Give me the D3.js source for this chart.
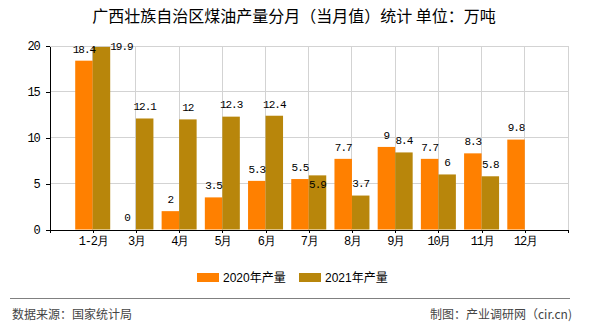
<!DOCTYPE html>
<html>
<head>
<meta charset="utf-8">
<script src="https://cdn.jsdelivr.net/npm/d3@7"></script>
<style>
  html, body { margin: 0; padding: 0; background: #fff; }
  svg { display: block; }
</style>
</head>
<body>
<script>
const categories = ["1-2月","3月","4月","5月","6月","7月","8月","9月","10月","11月","12月"];
const values2020 = [18.4, 0, 2, 3.5, 5.3, 5.5, 7.7, 9, 7.7, 8.3, 9.8];
const values2021 = [19.9, 12.1, 12, 12.3, 12.4, 5.9, 3.7, 8.4, 6, 5.8, null];
const seriesNames = ["2020年产量", "2021年产量"];
const seriesColors = ["#FF8000", "#B8860B"];
const yTicks = [0, 5, 10, 15, 20];
const titleText = "广西壮族自治区煤油产量分月（当月值）统计 单位：万吨";
const sourceText = "数据来源：国家统计局";
const creditText = "制图：产业调研网（cir.cn)";

(function () {
const W = 590, H = 330;
const pL = 49.5, pR = 568, pT = 46, pB = 229.5;
const svg = d3.select("body").append("svg").attr("width", W).attr("height", H);

const x = d3.scaleLinear().domain([0, categories.length + 1]).range([pL, pR]);
const y = d3.scaleLinear().domain([0, 20]).range([pB, pT]);
const barW = 17.5;

// title
svg.append("text").attr("x", 294).attr("y", 22).attr("text-anchor", "middle")
  .style("font-family", "'Noto Sans CJK SC', sans-serif").style("font-size", "16px").attr("fill", "#000")
  .text(titleText);

// grid
const grid = svg.append("g").attr("stroke", "#d3d3d3").attr("stroke-width", 1).attr("shape-rendering", "crispEdges");
yTicks.filter(t => t > 0).forEach(t => {
  grid.append("line").attr("x1", pL).attr("x2", pR).attr("y1", y(t)).attr("y2", y(t));
});
d3.range(1, categories.length + 2).forEach(k => {
  grid.append("line").attr("x1", x(k)).attr("x2", x(k)).attr("y1", pT).attr("y2", pB);
});

// bars
const series = [values2020, values2021];
series.forEach((vals, si) => {
  svg.append("g").selectAll("rect").data(vals.map((v, i) => ({v, i})).filter(d => d.v != null))
    .join("rect")
    .attr("x", d => si === 0 ? x(d.i + 1) - barW : x(d.i + 1))
    .attr("width", barW)
    .attr("y", d => y(d.v))
    .attr("height", d => y(0) - y(d.v))
    .attr("fill", seriesColors[si]);
});

// axes
const axisFont = "'Liberation Mono', monospace";
const yAxis = svg.append("g").attr("transform", `translate(${pL},0)`)
  .call(d3.axisLeft(y).tickValues(yTicks).tickSize(4).tickSizeOuter(0).tickPadding(6).tickFormat(d3.format("d")));
const xAxis = svg.append("g").attr("transform", `translate(0,${pB})`)
  .call(d3.axisBottom(x).tickValues(d3.range(0, categories.length + 2)).tickSize(3).tickSizeOuter(0).tickPadding(4)
    .tickFormat(k => categories[k - 1] || ""));
[yAxis, xAxis].forEach(a => {
  a.selectAll("path, line").attr("stroke", "#000").attr("shape-rendering", "crispEdges");
  a.selectAll("text").style("font-family", axisFont).style("font-size", "12px")
    .style("letter-spacing", "-1.2px").attr("fill", "#000");
});

// value labels with simple collision avoidance
const charW = 5.6, lblH = 10, pad = 2;
const labels = [];
categories.forEach((c, i) => {
  const group = [];
  series.forEach((vals, si) => {
    const v = vals[i];
    if (v == null) return;
    const txt = String(v);
    const w = txt.length * charW;
    const barL = si === 0 ? x(i + 1) - barW : x(i + 1);
    let cx = barL + barW / 2;
    let cy = y(v) - 12;
    if (cy - lblH / 2 < pT - 6) { // would leave the plot: pin to top, beside bar
      cy = pT;
      cx = barL + barW + w / 2;
    }
    const lab = {txt, w, cx, cy};
    group.forEach(o => {
      const ox = Math.abs(o.cx - lab.cx) < (o.w + lab.w) / 2 + pad;
      const oy = Math.abs(o.cy - lab.cy) < lblH + pad;
      if (ox && oy) lab.cy = o.cy + 17;
    });
    group.push(lab);
    labels.push(lab);
  });
});
svg.append("g").selectAll("text").data(labels).join("text")
  .attr("x", d => d.cx).attr("y", d => d.cy).attr("dy", "0.35em").attr("text-anchor", "middle")
  .style("font-family", axisFont).style("font-size", "11px").style("letter-spacing", "-1px")
  .attr("fill", "#000").text(d => d.txt);

// legend
const leg = svg.append("g");
const legX = [197, 299];
seriesNames.forEach((n, i) => {
  leg.append("rect").attr("x", legX[i]).attr("y", 273).attr("width", 22).attr("height", 9).attr("fill", seriesColors[i]);
  leg.append("text").attr("x", legX[i] + 26).attr("y", 277.5).attr("dy", "0.35em")
    .style("font-family", "'Liberation Sans', 'Noto Sans CJK SC', sans-serif").style("font-size", "12px")
    .attr("fill", "#000").text(n);
});

// footer
svg.append("line").attr("x1", 10).attr("x2", 570).attr("y1", 298.5).attr("y2", 298.5)
  .attr("stroke", "#808080").attr("stroke-width", 1).attr("shape-rendering", "crispEdges");
svg.append("text").attr("x", 12).attr("y", 315).attr("dy", "0.35em")
  .style("font-family", "'Noto Sans CJK SC', sans-serif").style("font-size", "12px").attr("fill", "#444")
  .text(sourceText);
svg.append("text").attr("x", 572).attr("y", 315).attr("dy", "0.35em").attr("text-anchor", "end")
  .style("font-family", "'Noto Sans CJK SC', sans-serif").style("font-size", "12px").attr("fill", "#444")
  .text(creditText);
})();
</script>
</body>
</html>
